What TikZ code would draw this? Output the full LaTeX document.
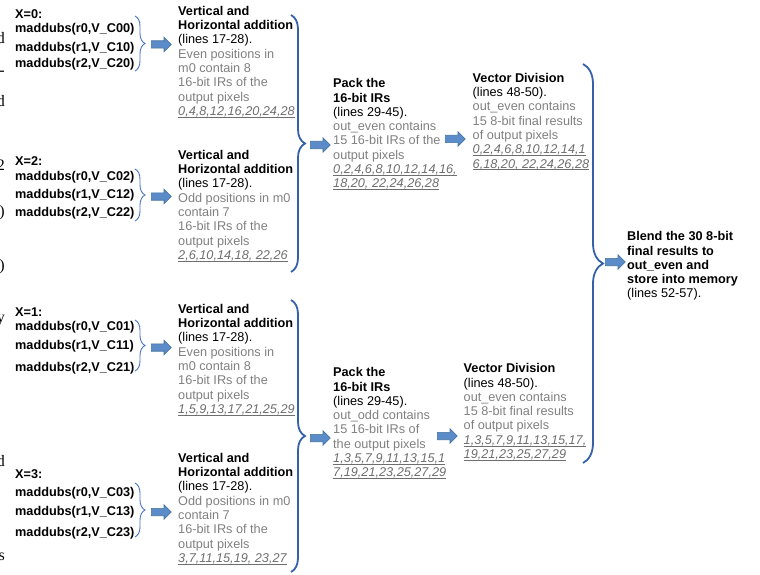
\documentclass[tikz,border=0pt]{standalone}
\usepackage{fontspec}
\setmainfont{Liberation Sans}
\newfontfamily\edgefont{Liberation Serif}
\usetikzlibrary{decorations.pathreplacing,shapes.arrows}
\definecolor{txtgrey}{HTML}{808080}
\definecolor{numgrey}{HTML}{6E6E6E}
\definecolor{bracethin}{HTML}{4472C4}
\definecolor{bracethick}{HTML}{3461A8}
\definecolor{arrfill}{HTML}{5B8BC9}
\definecolor{arrdraw}{HTML}{41719C}
\newlength\numw
\newcommand{\gr}[1]{\textcolor{txtgrey}{#1}}
\newcommand{\nums}[1]{\settowidth{\numw}{\textit{#1}}\textcolor{numgrey}{\textit{#1}\hspace{-\numw}\rule[-1.9pt]{\numw}{0.6pt}}}
\begin{document}
\begin{tikzpicture}[x=1pt,y=-1pt,
  txt/.style={anchor=north west, inner sep=0pt, align=left, font=\fontsize{12.7}{14.3}\selectfont},
  code/.style={anchor=north west, inner sep=0pt, align=left, font=\fontsize{12.7}{14.3}\selectfont\bfseries},
  smallbrace/.style={draw=bracethin, line width=0.9pt, decorate, decoration={brace, amplitude=10pt}},
  bigbrace/.style={draw=bracethick, line width=1.8pt, decorate, decoration={brace, amplitude=14pt}},
  blockarrow/.style={single arrow, draw=arrdraw, fill=arrfill, line width=0.6pt, minimum height=20pt, inner xsep=0pt, inner ysep=3.4pt, single arrow head extend=3.6pt, anchor=west},
  edge/.style={anchor=base east, inner sep=0pt, font=\edgefont\fontsize{16}{16}\selectfont},
]
\useasboundingbox (0,0) rectangle (760,575);

% stray fragments of surrounding page at the left edge
\begin{scope}
\clip (0,0) rectangle (6,575);
\node[edge] (e1) at (5,44) {d};
\node[edge] (e2) at (5,76) {-};
\node[edge] (e3) at (5,107) {d};
\node[edge] (e4) at (5,170) {2};
\node[edge] (e5) at (5,216) {)};
\node[edge] (e6) at (5,270) {)};
\node[edge] (e7) at (5,322) {y};
\node[edge] (e8) at (5,466) {d};
\node[edge] (e9) at (5,560) {s};
\end{scope}

% maddubs groups
\node[code] (c0) at (15,8.5) {\strut X=0:\\[-0.5pt] maddubs(r0,V\_C00)\\[4.5pt] maddubs(r1,V\_C10)\\[2pt] maddubs(r2,V\_C20)};
\node[code] (c2) at (15,155) {\strut X=2:\\[0.5pt] maddubs(r0,V\_C02)\\[4pt] maddubs(r1,V\_C12)\\[4pt] maddubs(r2,V\_C22)};
\node[code] (c1) at (15,306) {\strut X=1:\\ maddubs(r0,V\_C01)\\[5pt] maddubs(r1,V\_C11)\\[7pt] maddubs(r2,V\_C21)};
\node[code] (c3) at (15,468.5) {\strut X=3:\\[3pt] maddubs(r0,V\_C03)\\[5.5pt] maddubs(r1,V\_C13)\\[6pt] maddubs(r2,V\_C23)};

% small braces
\draw[smallbrace] (135,16) -- (135,71);
\draw[smallbrace] (135,169) -- (135,221);
\draw[smallbrace] (135,320) -- (135,371);
\draw[smallbrace] (135,483) -- (135,537);

% vertical + horizontal addition blocks
\node[txt] (v0) at (178,5) {\strut\textbf{Vertical and}\\ \textbf{Horizontal addition}\\ (lines 17-28).\\ \gr{Even positions in}\\ \gr{m0 contain 8}\\ \gr{16-bit IRs of the}\\ \gr{output pixels}\\ \nums{0,4,8,12,16,20,24,28}};
\node[txt] (v2) at (178,149) {\strut\textbf{Vertical and}\\ \textbf{Horizontal addition}\\ (lines 17-28).\\ \gr{Odd positions in m0}\\ \gr{contain 7}\\ \gr{16-bit IRs of the}\\ \gr{output pixels}\\ \nums{2,6,10,14,18, 22,26}};
\node[txt] (v1) at (178,303) {\strut\textbf{Vertical and}\\ \textbf{Horizontal addition}\\ (lines 17-28).\\ \gr{Even positions in}\\ \gr{m0 contain 8}\\ \gr{16-bit IRs of the}\\ \gr{output pixels}\\ \nums{1,5,9,13,17,21,25,29}};
\node[txt] (v3) at (178,452) {\strut\textbf{Vertical and}\\ \textbf{Horizontal addition}\\ (lines 17-28).\\ \gr{Odd positions in m0}\\ \gr{contain 7}\\ \gr{16-bit IRs of the}\\ \gr{output pixels}\\ \nums{3,7,11,15,19, 23,27}};

% arrows from small braces
\node[blockarrow] (a0) at (151,44.5) {};
\node[blockarrow] (a2) at (151,196.5) {};
\node[blockarrow] (a1) at (151,347.5) {};
\node[blockarrow] (a3) at (151,512) {};

% big left braces
\draw[bigbrace] (291,15) -- (291,272);
\draw[bigbrace] (291,300) -- (291,572);

% pack blocks
\node[txt] (p0) at (333,77.5) {\strut\textbf{Pack the}\\ \textbf{16-bit IRs}\\ (lines 29-45).\\ \gr{out\_even contains}\\ \gr{15 16-bit IRs of the}\\ \gr{output pixels}\\ \nums{0,2,4,6,8,10,12,14,16,}\\ \nums{18,20, 22,24,26,28}};
\node[txt] (p1) at (333,366.5) {\strut\textbf{Pack the}\\ \textbf{16-bit IRs}\\ (lines 29-45).\\ \gr{out\_odd contains}\\ \gr{15 16-bit IRs of}\\ \gr{the output pixels}\\ \nums{1,3,5,7,9,11,13,15,1}\\ \nums{7,19,21,23,25,27,29}};
\node[blockarrow] (ap0) at (310,145) {};
\node[blockarrow] (ap1) at (310,438) {};

% vector division blocks
\node[txt] (d0) at (472.5,72) {\strut\textbf{Vector Division}\\ (lines 48-50).\\ \gr{out\_even contains}\\ \gr{15 8-bit final results}\\ \gr{of output pixels}\\ \nums{0,2,4,6,8,10,12,14,1}\\ \nums{6,18,20, 22,24,26,28}};
\node[txt] (d1) at (463.5,362.5) {\strut\textbf{Vector Division}\\ (lines 48-50).\\ \gr{out\_even contains}\\ \gr{15 8-bit final results}\\ \gr{of output pixels}\\ \nums{1,3,5,7,9,11,13,15,17,}\\ \nums{19,21,23,25,27,29}};
\node[blockarrow] (ad0) at (445,139) {};
\node[blockarrow] (ad1) at (437,436) {};

% big right brace
\draw[bigbrace, decoration={brace, amplitude=20pt}] (583,64) -- (583,463);
\node[blockarrow] (ab) at (605,262) {};

% blend
\node[txt] (b) at (627,230.5) {\strut\textbf{Blend the 30 8-bit}\\ \textbf{final results to}\\ \textbf{out\_even and}\\ \textbf{store into memory}\\ (lines 52-57).};
\end{tikzpicture}
\end{document}
